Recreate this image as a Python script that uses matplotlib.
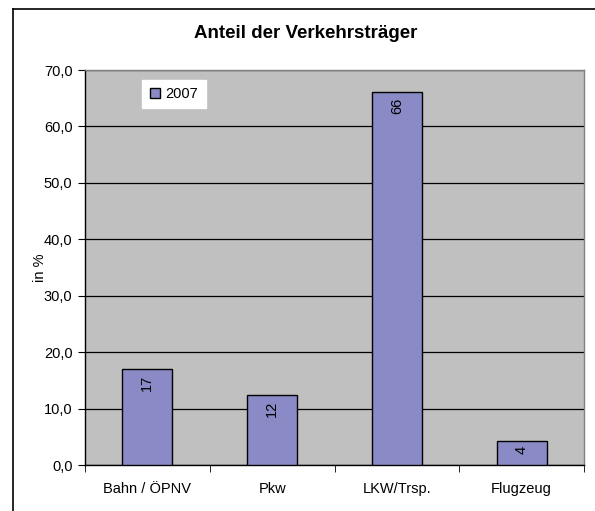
import matplotlib.pyplot as plt
from matplotlib.lines import Line2D
import numpy as np

plt.rcParams['font.family'] = ['Liberation Sans', 'DejaVu Sans']

categories = ['Bahn / ÖPNV', 'Pkw', 'LKW/Trsp.', 'Flugzeug']
shares_2007 = [17.0, 12.4, 66.1, 4.3]
yticks = [0, 10, 20, 30, 40, 50, 60, 70]

W, H = 595, 511
fig = plt.figure(figsize=(W / 100, H / 100), dpi=100)
fig.patch.set_facecolor('white')

# chart frame (left and top edges visible)
fx, fy = 13 / W, 1 - 9 / H
fig.add_artist(Line2D([fx, fx], [0, fy], color='black', lw=1.2))
fig.add_artist(Line2D([fx, 1], [fy, fy], color='black', lw=1.2))

ax = fig.add_axes([85 / W, 46 / H, (584 - 85) / W, (465 - 70) / H])
ax.set_facecolor('#C0C0C0')
ax.set_axisbelow(True)

x = np.arange(len(categories))
bars = ax.bar(x, shares_2007, width=0.4, color='#8A8AC6', edgecolor='black',
              linewidth=1.0, label='2007', zorder=3)

for rect, v in zip(bars, shares_2007):
    ax.annotate(f'{v:.0f}', (rect.get_x() + rect.get_width() / 2, rect.get_height()),
                xytext=(0, -4), textcoords='offset points', rotation=90,
                ha='center', va='top', fontsize=10.5, zorder=4)

ax.set_xlim(-0.5, len(categories) - 0.5)
ax.set_ylim(0, 70)
ax.set_yticks(yticks)
ax.set_yticklabels([f'{t:.1f}'.replace('.', ',') for t in yticks], fontsize=10.5)
ax.yaxis.grid(True, color='black', lw=0.9)

ax.set_xticks(x)
ax.set_xticklabels(categories, fontsize=10.5)
ax.tick_params(axis='x', length=0, pad=12)
ax.set_xticks(np.arange(-0.5, len(categories)), minor=True)
ax.tick_params(axis='x', which='minor', length=5, direction='out', color='black')
ax.tick_params(axis='y', length=5, direction='out', color='black', pad=4)

ax.spines['left'].set_color('black')
ax.spines['bottom'].set_color('black')
ax.spines['top'].set_color('#808080')
ax.spines['right'].set_color('#808080')
for s in ax.spines.values():
    s.set_linewidth(1.0)

ax.set_ylabel('in %', fontsize=10.5, labelpad=-2)
fig.text(306 / W, 1 - 34 / H, 'Anteil der Verkehrsträger', fontsize=13.5,
         fontweight='bold', ha='center', va='center')

leg = ax.legend(loc='upper left', bbox_to_anchor=(0.115, 0.975), frameon=True,
                fancybox=False, edgecolor='white', facecolor='white', framealpha=1,
                fontsize=10.5, handlelength=0.7, handleheight=0.7, handletextpad=0.4,
                borderpad=0.5, borderaxespad=0)

fig.savefig('out.png', dpi=100)
